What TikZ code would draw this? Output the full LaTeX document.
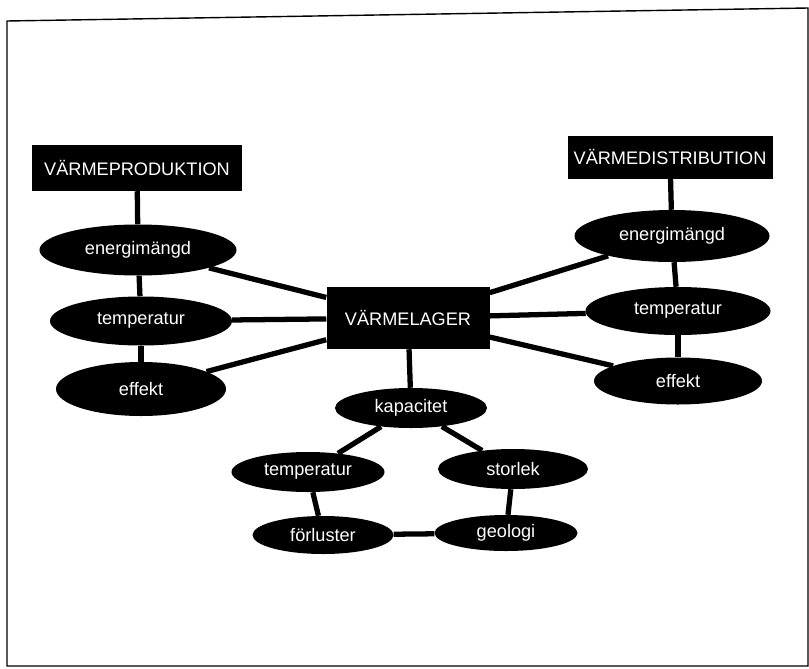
\documentclass[tikz,border=0pt]{standalone}
\usepackage{fontspec}
\setmainfont{Liberation Sans}
\usetikzlibrary{shapes.geometric}

\tikzstyle{blackbox}=[
    rectangle,
    fill=black,
    text=white,
    inner sep=2pt,
    font=\fontsize{15.5}{18}\selectfont,
  ]
\tikzstyle{oval}=[
    ellipse,
    fill=black,
    text=white,
    inner sep=0pt,
    font=\fontsize{15.5}{18}\selectfont,
  ]
\tikzstyle{link}=[
    line width=4.5pt,
  ]

\begin{document}
\begin{tikzpicture}[x=0.03cm, y=-0.03cm]
      \useasboundingbox (0,0) rectangle (809,668);
      % frame
      \draw[line width=1.2pt] (7,666) -- (7,21) -- (808,8) -- (808,666) -- cycle;

      \node[blackbox, minimum width=6.27cm, minimum height=1.38cm] (prod) at (137,168) {VÄRMEPRODUKTION};
      \node[blackbox, minimum width=6.15cm, minimum height=1.29cm] (dist) at (670,157) {VÄRMEDISTRIBUTION};
      \node[blackbox, minimum width=4.89cm, minimum height=1.86cm] (lager) at (408,318) {VÄRMELAGER};

      \node[oval, minimum width=5.91cm, minimum height=1.53cm] (eL) at (138,250) {energimängd};
      \node[oval, minimum width=5.46cm, minimum height=1.47cm] (tL) at (141,321) {temperatur};
      \node[oval, minimum width=5.10cm, minimum height=1.62cm] (fL) at (141,389) {effekt};
      \node[oval, minimum width=5.85cm, minimum height=1.56cm] (eR) at (672,236) {energimängd};
      \node[oval, minimum width=5.55cm, minimum height=1.44cm] (tR) at (678,311) {temperatur};
      \node[oval, minimum width=5.04cm, minimum height=1.41cm] (fR) at (678,381) {effekt};

      \node[oval, minimum width=4.56cm, minimum height=1.20cm] (kap) at (411,408) {kapacitet};
      \node[oval, minimum width=4.59cm, minimum height=1.20cm] (tB) at (308,472) {temperatur};
      \node[oval, minimum width=4.50cm, minimum height=1.20cm] (stor) at (513,469) {storlek};
      \node[oval, minimum width=4.23cm, minimum height=1.14cm] (forl) at (323,535) {förluster};
      \node[oval, minimum width=4.29cm, minimum height=1.08cm] (geo) at (506,533) {geologi};

      \foreach \a/\b in {prod/eL, eL/tL, tL/fL, dist/eR, eR/tR, tR/fR,
                         lager/eL, lager/tL, lager/fL, lager/eR, lager/tR, lager/fR,
                         lager/kap, kap/tB, kap/stor, tB/forl, stor/geo, forl/geo} {%
        \draw[link] (\a) -- (\b);
      }
    \end{tikzpicture}
\end{document}
